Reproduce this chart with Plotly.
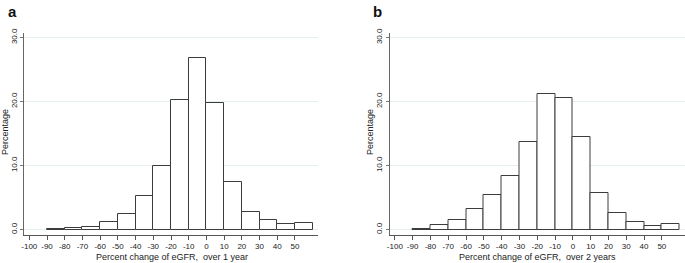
import plotly.graph_objects as go

bin_left = [-90, -80, -70, -60, -50, -40, -30, -20, -10, 0, 10, 20, 30, 40, 50]
bin_width = 10
pct_1yr = [0.08, 0.2, 0.35, 1.25, 2.4, 5.3, 9.95, 20.2, 26.8, 19.7, 7.45, 2.8, 1.45, 0.8, 1.05]
pct_2yr = [0.1, 0.7, 1.5, 3.2, 5.4, 8.4, 13.7, 21.2, 20.5, 14.5, 5.7, 2.55, 1.1, 0.55, 0.8]
x_ticks = [-100, -90, -80, -70, -60, -50, -40, -30, -20, -10, 0, 10, 20, 30, 40, 50]
y_ticks = [0, 10, 20, 30]
y_ticktext = ["0.0", "10.0", "20.0", "30.0"]
x_titles = ["Percent change of eGFR,  over 1 year", "Percent change of eGFR,  over 2 years"]
y_title = "Percentage"
panel_labels = ["a", "b"]

centers = [b + bin_width / 2 for b in bin_left]

fig = go.Figure()
font = "Liberation Sans, Arial, sans-serif"
W, H = 685, 263

domains = [[24 / W, 318 / W], [389.5 / W, 1.0]]
ydom = [(H - 234.5) / H, (H - 33) / H]

for i, vals in enumerate([pct_1yr, pct_2yr]):
    n = "" if i == 0 else "2"
    fig.add_trace(go.Bar(
        x=centers, y=vals, width=bin_width,
        marker=dict(color="white", line=dict(color="#3c3c3c", width=1)),
        xaxis="x" + n, yaxis="y" + n, showlegend=False,
    ))
    fig.update_layout(**{
        "xaxis" + n: dict(
            domain=domains[i], range=[-103, 63], anchor="y" + n,
            tickmode="array", tickvals=x_ticks, ticktext=[str(t) for t in x_ticks],
            tickangle=0,
            ticks="outside", ticklen=4, tickcolor="#555", tickwidth=1,
            showline=True, linecolor="#555", linewidth=1,
            showgrid=False, zeroline=False,
            tickfont=dict(size=8, color="#222", family=font),
            automargin=False,
        ),
        "yaxis" + n: dict(
            domain=ydom, range=[-0.78, 30.7], anchor="x" + n,
            tickmode="array", tickvals=y_ticks, ticktext=y_ticktext, tickangle=-90,
            ticks="outside", ticklen=3, tickcolor="#777", tickwidth=1,
            showline=True, linecolor="#666", linewidth=1,
            showgrid=True, gridcolor="#e4efef", gridwidth=1, zeroline=False,
            tickfont=dict(size=8, color="#222", family=font),
            automargin=False,
        ),
    })
    # axis titles
    fig.add_annotation(
        text=x_titles[i], xref="paper", yref="paper",
        x=[172 / W, 537 / W][i], y=1 - 256.5 / H, xanchor="center", yanchor="middle",
        showarrow=False, font=dict(size=9, color="#222", family=font),
    )
    fig.add_annotation(
        text=y_title, xref="paper", yref="paper", textangle=-90,
        x=[5 / W, 370 / W][i], y=1 - 132 / H, xanchor="center", yanchor="middle",
        showarrow=False, font=dict(size=9, color="#222", family=font),
    )

for i, lab in enumerate(panel_labels):
    fig.add_annotation(
        text="<b>%s</b>" % lab, xref="paper", yref="paper",
        x=[6 / W, 371 / W][i], y=1 - 1 / H, xanchor="left", yanchor="top",
        showarrow=False, font=dict(size=15, color="#111", family=font),
    )

fig.update_layout(
    width=W, height=H,
    margin=dict(l=0, r=0, t=0, b=0),
    plot_bgcolor="white", paper_bgcolor="white",
    bargap=0,
)

fig.write_html(
    "out.html",
    config={"displayModeBar": False},
    post_script="document.body.style.margin='0';document.body.style.padding='0';",
)
